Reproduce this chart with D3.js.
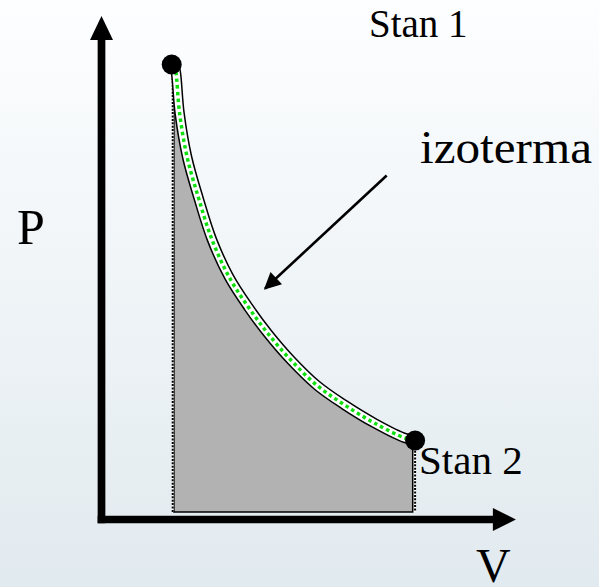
<!DOCTYPE html>
<html>
<head>
<meta charset="utf-8">
<script src="https://cdn.jsdelivr.net/npm/d3@7"></script>
<style>
    html, body { margin: 0; padding: 0; }
    svg { display: block; }
</style>
</head>
<body>
<svg id="SVG1" width="599" height="587"></svg>
<script>
// isotherm (V, P in arbitrary units)
var curveV = [1.81, 1.855, 1.95, 2.14, 2.43, 2.76, 3.19, 3.67, 4.15, 4.72, 5.39, 6.06, 6.82, 7.585, 7.78];
var curveP = [9.08, 8.97, 8.14, 7.25, 6.42, 5.60, 4.85, 4.25, 3.73, 3.20, 2.68, 2.30, 1.93, 1.63, 1.60];

// the two states (end points of the isotherm)
var stateV = [1.755, 7.84];
var stateP = [9.10, 1.58];

// dotted drop lines and bottom of the shaded work area
var dropV = [1.78, 7.84];
var areaBottomP = 0.15;

// annotation arrow pointing at the curve
var arrowV = [7.13, 4.09];
var arrowP = [6.88, 4.62];

// axis extents
var axisMaxV = 10.36;
var axisMaxP = 10.07;

var curveData = curveV.map(function (v, i) { return { v: v, p: curveP[i] }; });

document.addEventListener('DOMContentLoaded', function () {
    DrawDiagram();
});

function DrawDiagram() {
    const svg = d3.select('#SVG1');

    // background gradient
    var defs = svg.append('defs');
    var grad = defs.append('linearGradient')
        .attr('id', 'bg').attr('x1', 0).attr('y1', 0).attr('x2', 0).attr('y2', 1);
    grad.append('stop').attr('offset', '0%').attr('stop-color', '#fdfeff');
    grad.append('stop').attr('offset', '100%').attr('stop-color', '#e1eaef');

    defs.append('marker')
        .attr('id', 'head')
        .attr('viewBox', '0 0 10 10')
        .attr('refX', 9).attr('refY', 5)
        .attr('markerWidth', 7).attr('markerHeight', 6.5)
        .attr('markerUnits', 'strokeWidth')
        .attr('orient', 'auto')
        .append('path').attr('d', 'M0,0 L10,5 L0,10 z').attr('fill', 'black');

    svg.append('rect').attr('width', 599).attr('height', 587).attr('fill', 'url(#bg)');

    var g = svg.append('g');

    var x = d3.scaleLinear().domain([0, 10]).range([101.5, 501.5]);
    var y = d3.scaleLinear().domain([0, 10]).range([519.5, 19.5]);

    var line = d3.line()
        .x(function (d) { return x(d.v); })
        .y(function (d) { return y(d.p); })
        .curve(d3.curveCatmullRom);

    var last = curveData[curveData.length - 1];
    var first = curveData[0];

    // shaded area under the isotherm
    g.append('path')
        .attr('d', line(curveData) +
            'L' + x(last.v) + ',' + y(areaBottomP) +
            'L' + x(first.v) + ',' + y(areaBottomP) + 'Z')
        .attr('fill', '#b2b2b2')
        .attr('stroke', 'black')
        .attr('stroke-width', 1.5);

    // dotted drop lines
    dropV.forEach(function (v, i) {
        g.append('line')
            .attr('x1', x(v)).attr('x2', x(v))
            .attr('y1', y(stateP[i])).attr('y2', y(areaBottomP))
            .attr('stroke', 'white').attr('stroke-width', 2);
        g.append('line')
            .attr('x1', x(v)).attr('x2', x(v))
            .attr('y1', y(stateP[i])).attr('y2', y(areaBottomP))
            .attr('stroke', 'black').attr('stroke-width', 2)
            .attr('stroke-dasharray', '2,1.4');
    });

    // isotherm: black outline, white band, green dotted centre
    g.append('path').attr('d', line(curveData))
        .attr('fill', 'none').attr('stroke', 'black').attr('stroke-width', 10.5);
    g.append('path').attr('d', line(curveData))
        .attr('fill', 'none').attr('stroke', 'white').attr('stroke-width', 7.5);
    g.append('path').attr('d', line(curveData))
        .attr('fill', 'none').attr('stroke', '#10e010').attr('stroke-width', 3.5)
        .attr('stroke-dasharray', '3.5,3.2');

    // axes
    g.append('line')
        .attr('x1', x(0)).attr('x2', x(0))
        .attr('y1', y(0) + 3.8).attr('y2', y(axisMaxP) + 22)
        .attr('stroke', 'black').attr('stroke-width', 7.7);
    g.append('path')
        .attr('d', 'M' + x(0) + ',' + y(axisMaxP) +
            'L' + (x(0) + 11.5) + ',' + (y(axisMaxP) + 24) +
            'L' + (x(0) - 11.5) + ',' + (y(axisMaxP) + 24) + 'Z')
        .attr('fill', 'black');

    g.append('line')
        .attr('x1', x(0) - 3.8).attr('x2', x(axisMaxV) - 22)
        .attr('y1', y(0)).attr('y2', y(0))
        .attr('stroke', 'black').attr('stroke-width', 7.7);
    g.append('path')
        .attr('d', 'M' + x(axisMaxV) + ',' + y(0) +
            'L' + (x(axisMaxV) - 23) + ',' + (y(0) - 11.5) +
            'L' + (x(axisMaxV) - 23) + ',' + (y(0) + 11.5) + 'Z')
        .attr('fill', 'black');

    // state points
    g.selectAll('circle.state')
        .data(stateV)
        .enter().append('circle')
        .attr('class', 'state')
        .attr('cx', function (d) { return x(d); })
        .attr('cy', function (d, i) { return y(stateP[i]); })
        .attr('r', 10)
        .attr('fill', 'black');

    // annotation arrow
    g.append('line')
        .attr('x1', x(arrowV[0])).attr('y1', y(arrowP[0]))
        .attr('x2', x(arrowV[1])).attr('y2', y(arrowP[1]))
        .attr('stroke', 'black').attr('stroke-width', 2.6)
        .attr('marker-end', 'url(#head)');

    // labels
    var serif = '"Times New Roman", Times, "Liberation Serif", serif';
    g.append('text').attr('x', 369).attr('y', 37).text('Stan 1')
        .style('font-family', serif).attr('font-size', 39);
    g.append('text').attr('x', 420).attr('y', 163).text('izoterma')
        .attr('textLength', 172).attr('lengthAdjust', 'spacingAndGlyphs')
        .style('font-family', serif).attr('font-size', 46);
    g.append('text').attr('x', 17).attr('y', 244).text('P')
        .style('font-family', serif).attr('font-size', 50);
    g.append('text').attr('x', 419).attr('y', 474).text('Stan 2')
        .style('font-family', serif).attr('font-size', 41);
    g.append('text').attr('x', 476).attr('y', 582).text('V')
        .style('font-family', serif).attr('font-size', 48);
}
</script>
</body>
</html>
